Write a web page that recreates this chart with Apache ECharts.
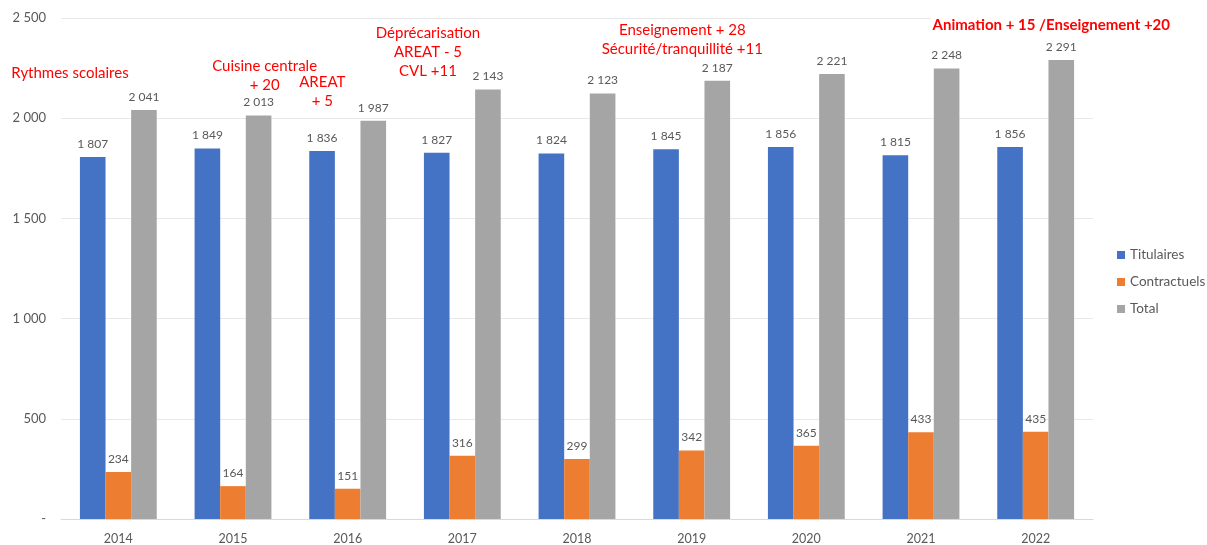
<!DOCTYPE html>
<html><head><meta charset="utf-8">
<script src="https://cdn.jsdelivr.net/npm/echarts@6/dist/echarts.min.js"></script>
<style>html,body{margin:0;padding:0;background:#fff}#c{width:1207px;height:545px}</style>
</head><body><div id="c"></div>
<script>
const years = ['2014','2015','2016','2017','2018','2019','2020','2021','2022'];
const titulaires = [1807,1849,1836,1827,1824,1845,1856,1815,1856];
const contractuels = [234,164,151,316,299,342,365,433,435];
const total = [2041,2013,1987,2143,2123,2187,2221,2248,2291];
const yTicks = [0,500,1000,1500,2000,2500];
const annotations = [
  {year:'2014', value:2227, text:'Rythmes scolaires', dx:-74, bold:false},
  {year:'2015', value:2214, text:'Cuisine centrale\n+ 20', dx:6, bold:false},
  {year:'2016', value:2130, text:'AREAT\n+ 5', dx:-51, bold:false},
  {year:'2017', value:2331, text:'Déprécarisation\nAREAT - 5\nCVL +11', dx:-60, bold:false},
  {year:'2019', value:2393, text:'Enseignement + 28\nSécurité/tranquillité +11', dx:-35, bold:false},
  {year:'2022', value:2465, text:'Animation + 15 /Enseignement +20', dx:-10, bold:true}
];
const FONT = 'Lato, "Open Sans", sans-serif';
function fmt(v){ if(v===0) return '-'; return String(v).replace(/\B(?=(\d{3})+(?!\d))/g,' '); }
const labelStyle = {show:true, position:'top', distance:7, color:'#595959', fontSize:12, fontFamily:FONT, formatter:p=>fmt(p.value)};
const chart = echarts.init(document.getElementById('c'), null, {renderer:'canvas'});
chart.setOption({
  animation:false,
  textStyle:{fontFamily:FONT},
  grid:{left:61, right:114, top:18, bottom:24, containLabel:false},
  legend:{
    orient:'vertical', left:1112, top:243, itemWidth:8, itemHeight:8, itemGap:13,
    icon:'rect', textStyle:{color:'#595959', fontSize:13.5, fontFamily:FONT},
    data:['Titulaires','Contractuels','Total']
  },
  xAxis:{
    type:'category', data:years,
    axisLine:{lineStyle:{color:'#d9d9d9'}}, axisTick:{show:false},
    axisLabel:{color:'#595959', fontSize:12.5, margin:13, fontFamily:FONT}
  },
  yAxis:{
    type:'value', min:0, max:2500, interval:500,
    axisLine:{show:false}, axisTick:{show:false},
    splitLine:{lineStyle:{color:'#e8e8e8'}},
    axisLabel:{color:'#595959', fontSize:13, margin:15, fontFamily:FONT,
      formatter:v=> yTicks.includes(v) ? fmt(v) : ''}
  },
  series:[
    {name:'Titulaires', type:'bar', data:titulaires, itemStyle:{color:'#4472C4'}, barGap:'0%', barCategoryGap:'33%', label:labelStyle},
    {name:'Contractuels', type:'bar', data:contractuels, itemStyle:{color:'#ED7D31'}, label:labelStyle},
    {name:'Total', type:'bar', data:total, itemStyle:{color:'#A5A5A5'}, label:labelStyle,
      markPoint:{
        symbol:'circle', symbolSize:0, silent:true,
        data: annotations.map(a=>({
          coord:[a.year, a.value],
          label:{show:true, position:'inside', offset:[a.dx,0], formatter:a.text,
            color:'#FF0000', fontSize:15, lineHeight:19, fontFamily:FONT,
            fontWeight:a.bold?'bold':'normal', align:'center',
            backgroundColor:a.bold?'#fff':'transparent', padding:[0,2]}
        }))
      }
    }
  ]
});
</script></body></html>
